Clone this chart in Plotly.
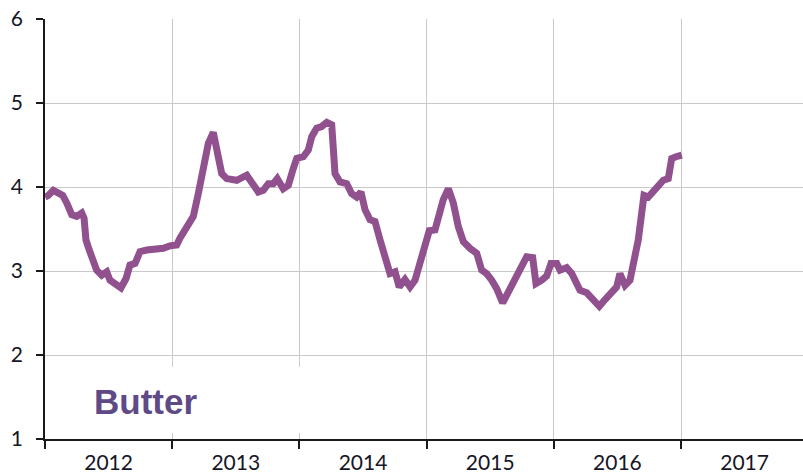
import plotly.graph_objects as go

# Decimal-year positions
t = [2012.000, 2012.026, 2012.065, 2012.105, 2012.139, 2012.171, 2012.210, 2012.249, 2012.289, 2012.307,
     2012.322, 2012.348, 2012.380, 2012.406, 2012.446, 2012.485, 2012.511, 2012.550, 2012.597, 2012.637,
     2012.668, 2012.708, 2012.747, 2012.800, 2012.878, 2012.930, 2012.983, 2013.035, 2013.061, 2013.114,
     2013.166, 2013.205, 2013.244, 2013.284, 2013.323, 2013.362, 2013.389, 2013.428, 2013.507, 2013.586,
     2013.625, 2013.677, 2013.716, 2013.756, 2013.795, 2013.826, 2013.873, 2013.913, 2013.952, 2013.979,
     2014.031, 2014.070, 2014.097, 2014.136, 2014.175, 2014.215, 2014.254, 2014.280, 2014.319, 2014.372,
     2014.411, 2014.450, 2014.484, 2014.516, 2014.555, 2014.594, 2014.634, 2014.673, 2014.712, 2014.752,
     2014.785, 2014.830, 2014.870, 2014.909, 2014.948, 2014.987, 2015.021, 2015.066, 2015.092, 2015.131,
     2015.171, 2015.210, 2015.249, 2015.289, 2015.341, 2015.394, 2015.433, 2015.472, 2015.512, 2015.551,
     2015.598, 2015.642, 2015.682, 2015.721, 2015.760, 2015.787, 2015.834, 2015.860, 2015.905, 2015.944,
     2015.978, 2016.023, 2016.049, 2016.101, 2016.141, 2016.206, 2016.259, 2016.311, 2016.358, 2016.403,
     2016.455, 2016.494, 2016.520, 2016.560, 2016.599, 2016.638, 2016.664, 2016.691, 2016.709, 2016.743,
     2016.782, 2016.822, 2016.861, 2016.900, 2016.927, 2016.961, 2017.006]

butter = [3.88, 3.90, 3.96, 3.92, 3.90, 3.81, 3.67, 3.65, 3.69, 3.63,
          3.37, 3.25, 3.13, 3.01, 2.95, 2.99, 2.89, 2.85, 2.80, 2.91,
          3.07, 3.09, 3.23, 3.25, 3.25, 3.27, 3.30, 3.31, 3.39, 3.51,
          3.65, 3.92, 4.28, 4.52, 4.65, 4.40, 4.16, 4.10, 4.08, 4.14,
          4.06, 3.94, 3.96, 4.04, 4.04, 4.10, 3.98, 4.02, 4.22, 4.34,
          4.36, 4.44, 4.60, 4.70, 4.72, 4.77, 4.74, 4.16, 4.06, 4.04,
          3.92, 3.88, 3.94, 3.73, 3.61, 3.59, 3.37, 3.17, 2.97, 2.99,
          2.81, 2.90, 2.81, 2.89, 3.09, 3.33, 3.48, 3.49, 3.65, 3.85,
          3.98, 3.81, 3.53, 3.35, 3.27, 3.21, 3.01, 2.97, 2.89, 2.79,
          2.62, 2.75, 2.85, 2.99, 3.07, 3.17, 3.16, 2.85, 2.89, 2.94,
          3.09, 3.09, 3.01, 3.04, 2.97, 2.77, 2.74, 2.65, 2.58, 2.66,
          2.73, 2.81, 2.97, 2.83, 2.89, 3.17, 3.37, 3.69, 3.90, 3.88,
          3.94, 4.00, 4.08, 4.10, 4.34, 4.36, 4.38]

year_labels = ["2012", "2013", "2014", "2015", "2016", "2017"]
year_label_pos = [2012.5, 2013.5, 2014.5, 2015.5, 2016.5, 2017.5]
y_ticks = [1, 2, 3, 4, 5, 6]

fig = go.Figure()
fig.add_trace(go.Scatter(
    x=t, y=butter, mode="lines",
    line=dict(color="#91518f", width=7),
    showlegend=False, hoverinfo="skip",
))

# white box behind the label, hiding the gridlines there
fig.add_shape(type="rect", xref="x", yref="y",
              x0=2012.1, x1=2014.6, y0=1.07, y1=1.86,
              fillcolor="white", line=dict(width=0), layer="between")

fig.add_annotation(x=0.132, y=0.09, xref="paper", yref="paper",
                   xanchor="center", yanchor="middle",
                   text="<b>Butter</b>", showarrow=False,
                   font=dict(family="Liberation Sans, Arial", size=35, color="#5f4a86"))

grid = "#c9c9c9"
font_family = "Lato, Open Sans, sans-serif"

fig.update_layout(
    width=803, height=474,
    margin=dict(l=45, r=0, t=19, b=35),
    paper_bgcolor="white", plot_bgcolor="white",
    xaxis=dict(
        range=[2012, 2012 + 758 / 127.2],
        tickmode="array", tickvals=year_label_pos, ticktext=year_labels,
        ticks="", showgrid=False, zeroline=False,
        showline=True, linecolor="#1a1a1a", linewidth=1.5,
        ticklabelstandoff=4,
        tickfont=dict(family=font_family, size=21, color="#161626"),
        minor=dict(tickmode="linear", tick0=2012, dtick=1, ticks="outside",
                   ticklen=8, tickcolor="#1a1a1a", tickwidth=1.5,
                   showgrid=True, gridcolor=grid, gridwidth=1.3),
    ),
    yaxis=dict(
        range=[1, 6], tickmode="array", tickvals=y_ticks,
        ticks="outside", ticklen=7, tickcolor="#1a1a1a", tickwidth=1.5,
        showgrid=True, gridcolor=grid, gridwidth=1.3, zeroline=False,
        showline=True, linecolor="#1a1a1a", linewidth=1.5,
        ticklabelstandoff=9,
        tickfont=dict(family=font_family, size=21, color="#161626"),
    ),
)

fig.write_html("out.html", config={"displayModeBar": False},
               post_script="document.body.style.margin='0';")
